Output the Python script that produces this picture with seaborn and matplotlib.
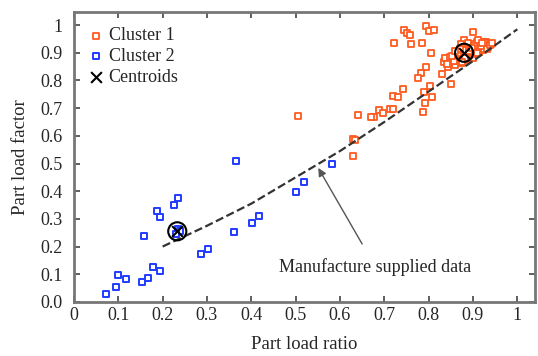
import numpy as np
import pandas as pd
import matplotlib.pyplot as plt
import seaborn as sns

# Cluster 1 (orange) - part load ratio / part load factor
c1_x = [0.795, 0.80, 0.811, 0.745, 0.752, 0.757, 0.721, 0.761, 0.786, 0.90, 0.879,
        0.805, 0.795, 0.843, 0.783, 0.775, 0.83, 0.743, 0.804, 0.789, 0.85, 0.719,
        0.732, 0.807, 0.792, 0.787, 0.713, 0.72, 0.687, 0.697, 0.676, 0.67, 0.64,
        0.63, 0.63, 0.634, 0.506,
        0.909, 0.92, 0.928, 0.917, 0.894, 0.886, 0.913, 0.922, 0.93, 0.864, 0.856,
        0.841, 0.849, 0.875, 0.86, 0.901, 0.89, 0.88, 0.876, 0.906, 0.87, 0.895,
        0.915, 0.925, 0.868, 0.852, 0.898, 0.884, 0.91, 0.935, 0.845, 0.872,
        0.905, 0.918, 0.93, 0.888, 0.862, 0.857, 0.925, 0.94, 0.912, 0.896,
        0.835, 0.838, 0.848, 0.858, 0.866, 0.878, 0.892, 0.903, 0.92, 0.932,
        0.842, 0.853, 0.87, 0.883, 0.897, 0.908, 0.86, 0.875, 0.938, 0.943]
c1_y = [0.996, 0.98, 0.982, 0.982, 0.972, 0.966, 0.937, 0.931, 0.937, 0.974, 0.948,
        0.898, 0.85, 0.847, 0.826, 0.808, 0.823, 0.768, 0.78, 0.759, 0.787, 0.744,
        0.739, 0.739, 0.717, 0.687, 0.697, 0.697, 0.693, 0.681, 0.669, 0.667, 0.675,
        0.587, 0.528, 0.585, 0.672,
        0.94, 0.934, 0.928, 0.922, 0.916, 0.91, 0.904, 0.91, 0.934, 0.892, 0.88,
        0.874, 0.868, 0.862, 0.856, 0.88, 0.892, 0.922, 0.91, 0.922, 0.90, 0.93,
        0.918, 0.915, 0.905, 0.885, 0.895, 0.875, 0.925, 0.92, 0.862, 0.93,
        0.912, 0.926, 0.94, 0.935, 0.898, 0.872, 0.938, 0.93, 0.945, 0.903,
        0.868, 0.88, 0.885, 0.872, 0.9, 0.91, 0.905, 0.925, 0.935, 0.915,
        0.858, 0.89, 0.915, 0.88, 0.918, 0.9, 0.905, 0.868, 0.928, 0.935]

# Cluster 2 (blue)
c2_x = [0.0715, 0.095, 0.10, 0.117, 0.153, 0.168, 0.178, 0.193, 0.158, 0.188,
        0.193, 0.226, 0.235, 0.235, 0.24, 0.23, 0.286, 0.302, 0.36, 0.366,
        0.401, 0.418, 0.50, 0.518, 0.582]
c2_y = [0.03, 0.055, 0.097, 0.082, 0.073, 0.085, 0.125, 0.113, 0.238, 0.33,
        0.306, 0.35, 0.374, 0.262, 0.255, 0.245, 0.173, 0.19, 0.254, 0.51,
        0.286, 0.31, 0.398, 0.434, 0.50]

# Centroids
cen_x = [0.88, 0.233]
cen_y = [0.90, 0.255]

# Manufacture supplied curve
man_x = [0.2, 0.3, 0.4, 0.5, 0.6, 0.7, 0.8, 0.9, 1.0]
man_y = [0.2, 0.275, 0.355, 0.45, 0.545, 0.65, 0.76, 0.87, 0.985]

xticks = [0, 0.1, 0.2, 0.3, 0.4, 0.5, 0.6, 0.7, 0.8, 0.9, 1.0]
xtick_labels = ['0', '0.1', '0.2', '0.3', '0.4', '0.5', '0.6', '0.7', '0.8', '0.9', '1']
yticks = [0, 0.1, 0.2, 0.3, 0.4, 0.5, 0.6, 0.7, 0.8, 0.9, 1.0]
ytick_labels = ['0.0', '0.1', '0.2', '0.3', '0.4', '0.5', '0.6', '0.7', '0.8', '0.9', '1']

df1 = pd.DataFrame({'ratio': c1_x, 'factor': c1_y})
df2 = pd.DataFrame({'ratio': c2_x, 'factor': c2_y})
man = pd.DataFrame({'ratio': man_x, 'factor': man_y})

sns.set_style("ticks")
plt.rcParams['font.family'] = ['Liberation Serif', 'DejaVu Serif']

fig = plt.figure(figsize=(5.38, 3.56), dpi=100)
ax = fig.add_axes([0.1375, 0.152, 0.857, 0.814])

sns.lineplot(data=man, x='ratio', y='factor', ax=ax, color='#333333',
             linestyle='--', linewidth=1.6, dashes=(3, 1.5))
sns.scatterplot(data=df1, x='ratio', y='factor', ax=ax, marker='s', s=20,
                facecolor='white', edgecolor='#ff5a1f', linewidth=1.3, label='Cluster 1')
sns.scatterplot(data=df2, x='ratio', y='factor', ax=ax, marker='s', s=18,
                facecolor='white', edgecolor='#1f3cff', linewidth=1.4, label='Cluster 2')
ax.scatter(cen_x, cen_y, marker='o', s=170, facecolor='none', edgecolor='black',
           linewidth=1.5, zorder=5)
ax.scatter(cen_x, cen_y, marker='x', s=60, color='black', linewidth=1.5,
           zorder=6, label='Centroids')

ax.annotate('Manufacture supplied data', xy=(0.551, 0.484), xytext=(0.68, 0.126),
            ha='center', va='center', fontsize=13,
            arrowprops=dict(arrowstyle='-|>', color='#555555', lw=1.0,
                            shrinkA=9, shrinkB=0, mutation_scale=12))

ax.set_xlim(0, 1.04)
ax.set_ylim(0, 1.047)
ax.set_xticks(xticks)
ax.set_xticklabels(xtick_labels)
ax.set_yticks(yticks)
ax.set_yticklabels(ytick_labels)
ax.tick_params(direction='in', top=True, right=True, length=4, width=1.2,
               labelsize=13, color='#444444')
ax.tick_params(axis='x', pad=4)
ax.tick_params(axis='y', pad=8)
for sp in ax.spines.values():
    sp.set_color('#777777')
    sp.set_linewidth(2)

ax.set_xlabel('Part load ratio', fontsize=13.5, labelpad=8)
ax.set_ylabel('Part load factor', fontsize=13.5, labelpad=8)

ax.legend(loc='upper left', frameon=False, fontsize=13, handletextpad=0.3,
          borderaxespad=0.45, handlelength=0.8, labelspacing=0.2,
          bbox_to_anchor=(-0.001, 1.0))

fig.savefig('out.png', dpi=100)
